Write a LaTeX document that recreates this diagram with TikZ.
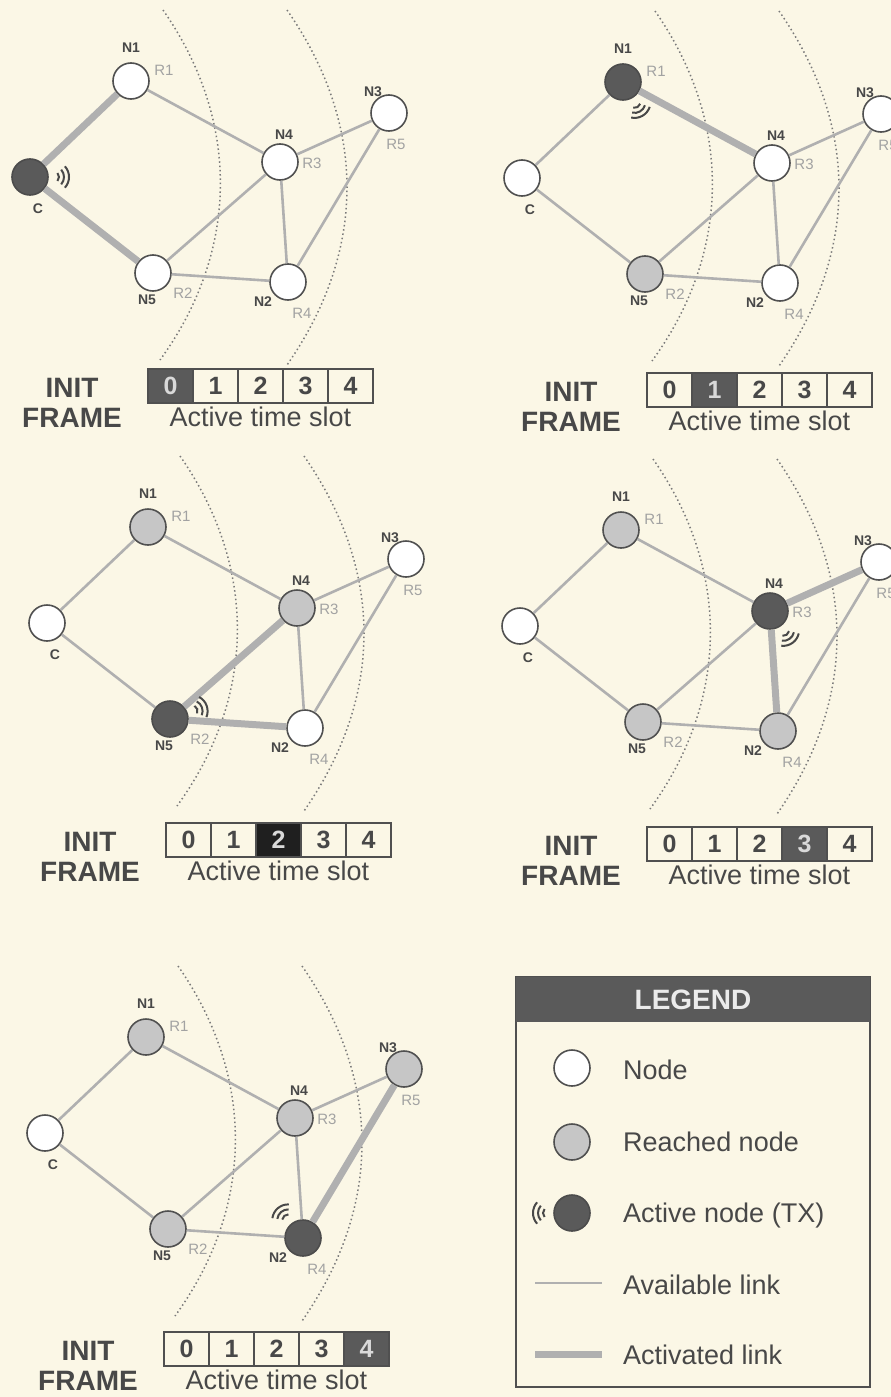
\documentclass[tikz,border=0pt]{standalone}
\usepackage{fontspec}
\setmainfont{Liberation Sans}
\usetikzlibrary{positioning}

\definecolor{paper}{HTML}{FBF7E6}
\definecolor{rimgray}{HTML}{505050}
\definecolor{reachgray}{HTML}{C6C6C6}
\definecolor{txgray}{HTML}{5A5A5A}
\definecolor{linkgray}{HTML}{B0B0B0}
\definecolor{ringgray}{HTML}{7A7A7A}
\definecolor{labgray}{HTML}{484848}
\definecolor{rgray}{HTML}{A2A2A2}

\tikzset{
  plainnode/.style={circle, draw=rimgray, line width=1.6pt, fill=white, minimum size=36pt, inner sep=0pt},
  reachnode/.style={plainnode, fill=reachgray},
  txnode/.style={plainnode, fill=txgray, draw=txgray!85!black},
  avlink/.style={linkgray, line width=2.6pt},
  actlink/.style={linkgray, line width=7pt},
  rangering/.style={ringgray, line width=1.5pt, dash pattern=on 1.5pt off 2.8pt},
  txwave/.style={labgray, line width=2pt},
  nlab/.style={text=labgray, font=\fontsize{14}{14}\selectfont\bfseries, inner sep=0pt},
  rlab/.style={text=rgray, font=\fontsize{15}{15}\selectfont, inner sep=0pt},
  slotnum/.style={text=labgray, font=\fontsize{25}{25}\selectfont\bfseries, inner sep=0pt},
  slotline/.style={rimgray, line width=1.2pt},
  frametxt/.style={text=labgray, font=\fontsize{28}{28}\selectfont\bfseries, inner sep=0pt},
  captxt/.style={text=labgray, font=\fontsize{27}{27}\selectfont, inner sep=0pt},
  legtxt/.style={text=labgray, font=\fontsize{27}{27}\selectfont, inner sep=0pt, anchor=base west},
}

% #1..#6: styles of C, N1, N2, N3, N4, N5
\newcommand{\netgraph}[6]{%
  \draw[rangering] (163,10) .. controls (240,120) and (240,250) .. (160,360);
  \draw[rangering] (287,10) .. controls (367,125) and (367,250) .. (287,365);
  \node[#1] (C)  at (30,177)  {};
  \node[#2] (N1) at (131,81)  {};
  \node[#3] (N2) at (288,282) {};
  \node[#4] (N3) at (389,113) {};
  \node[#5] (N4) at (280,162) {};
  \node[#6] (N5) at (153,273) {};
  \node[nlab] (Ct)  at (38,209)  {C};
  \node[nlab] (N1t) at (131,48)  {N1};
  \node[nlab] (N2t) at (263,302) {N2};
  \node[nlab] (N3t) at (373,92)  {N3};
  \node[nlab] (N4t) at (284,135) {N4};
  \node[nlab] (N5t) at (147,300) {N5};
  \node[rlab] (R1) at (164,70)  {R1};
  \node[rlab] (R2) at (183,293) {R2};
  \node[rlab] (R3) at (312,163) {R3};
  \node[rlab] (R4) at (302,313) {R4};
  \node[rlab] (R5) at (396,144) {R5};
  \draw[avlink] (C) -- (N1);
  \draw[avlink] (C) -- (N5);
  \draw[avlink] (N1) -- (N4);
  \draw[avlink] (N4) -- (N3);
  \draw[avlink] (N4) -- (N5);
  \draw[avlink] (N4) -- (N2);
  \draw[avlink] (N5) -- (N2);
  \draw[avlink] (N3) -- (N2);
}

% #1: sending node, #2: direction
\newcommand{\txwaves}[2]{%
  \foreach \r in {6,11,16}
    \draw[txwave] ([shift={(#2:23pt)}, shift={(#2-42:\r pt)}]#1.center)
      arc[start angle=#2-42, end angle=#2+42, radius=\r pt];
}

% #1,#2: corner of the slot bar, #3: active slot, #4: its fill
\newcommand{\timebar}[4]{%
  \begin{scope}[shift={(#1,#2)}]
    \fill[#4] (#3*45,0) rectangle ++(45,34);
    \foreach \k in {1,...,4} \draw[slotline] (\k*45,0) -- (\k*45,34);
    \draw[slotline, line width=1.8pt] (0,0) rectangle (225,34);
    \foreach \k in {0,...,4}{
      \ifnum\k=#3\relax
        \node[slotnum, text=white!85!black] (slot\k) at (\k*45+22.5,17) {\k};
      \else
        \node[slotnum] (slot\k) at (\k*45+22.5,17) {\k};
      \fi}
    \node[frametxt] (init)  at (-76,19) {INIT};
    \node[frametxt] (frame) at (-76,49) {FRAME};
    \node[captxt]   (cap)   at (112.5,48) {Active time slot};
  \end{scope}}

\begin{document}
\begin{tikzpicture}[x=1pt, y=-1pt]
  \useasboundingbox (0,0) rectangle (891,1397);
  \clip (0,0) rectangle (891,1397);
  \fill[paper] (0,0) rectangle (891,1397);

  % slot 0
  \begin{scope}[name prefix=s0-]
    \netgraph{txnode}{plainnode}{plainnode}{plainnode}{plainnode}{plainnode}
    \draw[actlink] (C) -- (N1);
    \draw[actlink] (C) -- (N5);
    \txwaves{C}{0}
    \timebar{148}{369}{0}{txgray}
  \end{scope}

  % slot 1
  \begin{scope}[shift={(492,1)}, name prefix=s1-]
    \netgraph{plainnode}{txnode}{plainnode}{plainnode}{plainnode}{reachnode}
    \draw[actlink] (N1) -- (N4);
    \txwaves{N1}{-60}
    \timebar{155}{372}{1}{txgray}
  \end{scope}

  % slot 2
  \begin{scope}[shift={(17,446)}, name prefix=s2-]
    \netgraph{plainnode}{reachnode}{plainnode}{plainnode}{reachnode}{txnode}
    \draw[actlink] (N5) -- (N4);
    \draw[actlink] (N5) -- (N2);
    \txwaves{N5}{20}
    \timebar{149}{377}{2}{black!88}
  \end{scope}

  % slot 3
  \begin{scope}[shift={(490,449)}, name prefix=s3-]
    \netgraph{plainnode}{reachnode}{reachnode}{plainnode}{txnode}{reachnode}
    \draw[actlink] (N4) -- (N3);
    \draw[actlink] (N4) -- (N2);
    \txwaves{N4}{-55}
    \timebar{157}{378}{3}{txgray}
  \end{scope}

  % slot 4
  \begin{scope}[shift={(15,956)}, name prefix=s4-]
    \netgraph{plainnode}{reachnode}{txnode}{reachnode}{reachnode}{reachnode}
    \draw[actlink] (N2) -- (N3);
    \txwaves{N2}{130}
    \timebar{149}{376}{4}{txgray}
  \end{scope}

  % legend
  \draw[rimgray, line width=1.5pt] (516,977) rectangle (870,1387);
  \fill[txgray] (516,977) rectangle (870,1022);
  \node[frametxt, text=white!92!black] (leghead) at (693,1000) {LEGEND};
  \node[plainnode] (lgplain) at (572,1068) {};
  \node[reachnode] (lgreach) at (572,1142) {};
  \node[txnode]    (lgtx)    at (572,1213) {};
  \txwaves{lgtx}{180}
  \coordinate (lgava) at (535,1283);
  \coordinate (lgavb) at (602,1283);
  \draw[avlink] (lgava) -- (lgavb);
  \coordinate (lgaca) at (535,1354);
  \coordinate (lgacb) at (602,1354);
  \draw[actlink] (lgaca) -- (lgacb);
  \node[legtxt] (lgt1) at (623,1079.7) {Node};
  \node[legtxt] (lgt2) at (623,1151.7) {Reached node};
  \node[legtxt] (lgt3) at (623,1222.7) {Active node (TX)};
  \node[legtxt] (lgt4) at (623,1294.7) {Available link};
  \node[legtxt] (lgt5) at (623,1364.7) {Activated link};
\end{tikzpicture}
\end{document}
